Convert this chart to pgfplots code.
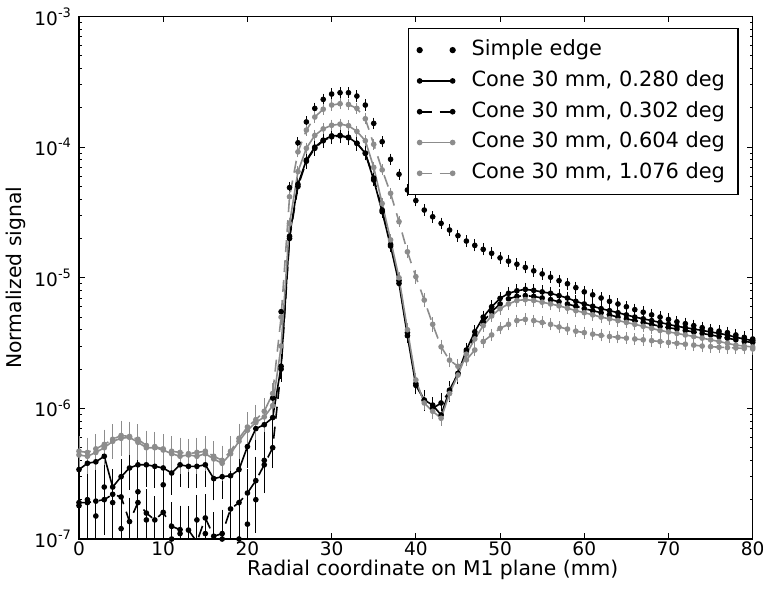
\documentclass[border=0pt]{standalone}
\usepackage{fontspec}
\setmainfont{DejaVu Sans}
\usepackage{pgfplots}
\pgfplotsset{compat=1.18}
\usepackage{pgfplotstable}
\definecolor{mgrey}{gray}{0.55}

% r = relative error of the cones, rs = relative error of the simple edge
% se = simple edge; c1..c4 = cone 0.280, 0.302, 0.604, 1.076 deg
\pgfplotstableread{
x  r     rs    se       c1       c2       c3       c4
0  0.30  0.45  1.8e-7   3.4e-7   1.9e-7   4.4e-7   4.7e-7
1  0.30  0.45  2.0e-7   3.8e-7   1.9e-7   4.3e-7   4.6e-7
2  0.30  0.45  1.5e-7   3.9e-7   1.95e-7  4.6e-7   4.9e-7
3  0.30  0.45  2.5e-7   4.3e-7   2.0e-7   5.0e-7   5.3e-7
4  0.30  0.45  1.9e-7   2.5e-7   2.2e-7   5.6e-7   5.8e-7
5  0.30  0.45  1.2e-7   3.0e-7   2.1e-7   5.9e-7   6.2e-7
6  0.30  0.45  0.9e-7   3.5e-7   1.36e-7  6.0e-7   6.1e-7
7  0.30  0.45  2.3e-7   3.7e-7   1.9e-7   5.5e-7   5.8e-7
8  0.30  0.45  1.4e-7   3.7e-7   1.58e-7  5.0e-7   5.2e-7
9  0.30  0.45  0.8e-7   3.6e-7   1.4e-7   5.0e-7   5.1e-7
10 0.30  0.45  2.6e-7   3.5e-7   1.6e-7   4.8e-7   4.9e-7
11 0.30  0.45  1.0e-7   3.2e-7   1.25e-7  4.5e-7   4.7e-7
12 0.30  0.45  1.1e-7   3.7e-7   1.18e-7  4.3e-7   4.6e-7
13 0.30  0.45  0.7e-7   3.6e-7   1.17e-7  4.4e-7   4.5e-7
14 0.30  0.45  1.4e-7   3.6e-7   0.95e-7  4.3e-7   4.6e-7
15 0.30  0.45  1.1e-7   3.7e-7   1.45e-7  4.5e-7   4.7e-7
16 0.30  0.45  0.6e-7   2.9e-7   1.05e-7  4.1e-7   4.3e-7
17 0.30  0.45  1.0e-7   3.0e-7   1.1e-7   3.8e-7   4.0e-7
18 0.30  0.45  0.9e-7   3.05e-7  1.7e-7   4.5e-7   4.7e-7
19 0.30  0.45  1.0e-7   3.4e-7   1.9e-7   5.6e-7   5.9e-7
20 0.30  0.45  1.3e-7   5.1e-7   2.25e-7  6.8e-7   7.2e-7
21 0.30  0.40  2.0e-7   7.0e-7   2.8e-7   7.8e-7   8.2e-7
22 0.25  0.30  4.0e-7   7.5e-7   3.7e-7   8.6e-7   9.5e-7
23 0.18  0.15  1.2e-6   8.5e-7   5.0e-7   1.05e-6  1.3e-6
24 0.10  0.06  5.5e-6   2.1e-6   2.0e-6   3.0e-6   5.0e-6
25 0.05  0.03  4.9e-5   2.08e-5  2.0e-5   2.6e-5   4.17e-5
26 0.04  0.03  1.08e-4  5.2e-5   5.0e-5   6.5e-5   9.2e-5
27 0.04  0.03  1.56e-4  7.96e-5  7.8e-5   9.8e-5   1.35e-4
28 0.04  0.03  1.98e-4  1.0e-4   9.8e-5   1.23e-4  1.7e-4
29 0.04  0.03  2.32e-4  1.13e-4  1.12e-4  1.38e-4  1.95e-4
30 0.04  0.03  2.55e-4  1.22e-4  1.2e-4   1.47e-4  2.1e-4
31 0.04  0.03  2.61e-4  1.23e-4  1.22e-4  1.5e-4   2.15e-4
32 0.04  0.03  2.61e-4  1.19e-4  1.18e-4  1.46e-4  2.12e-4
33 0.04  0.03  2.46e-4  1.07e-4  1.07e-4  1.32e-4  1.98e-4
34 0.04  0.03  2.10e-4  8.96e-5  9.0e-5   1.12e-4  1.65e-4
35 0.04  0.03  1.52e-4  5.6e-5   5.8e-5   7.0e-5   1.05e-4
36 0.04  0.03  1.10e-4  3.2e-5   3.3e-5   3.7e-5   6.7e-5
37 0.04  0.03  8.07e-5  1.75e-5  1.8e-5   1.95e-5  4.43e-5
38 0.04  0.03  6.2e-5   9.06e-6  9.5e-6   1.0e-5   2.69e-5
39 0.06  0.03  4.7e-5   3.6e-6   3.8e-6   4.0e-6   1.58e-5
40 0.08  0.03  3.9e-5   1.5e-6   1.55e-6  1.65e-6  1.02e-5
41 0.08  0.03  3.3e-5   1.16e-6  1.15e-6  1.1e-6   6.75e-6
42 0.08  0.03  2.93e-5  1.06e-6  1.0e-6   9.5e-7   4.4e-6
43 0.08  0.03  2.61e-5  8.9e-7   1.1e-6   8.4e-7   2.96e-6
44 0.08  0.03  2.32e-5  1.38e-6  1.35e-6  1.3e-6   2.34e-6
45 0.08  0.035 2.10e-5  1.85e-6  1.85e-6  1.8e-6   2.1e-6
46 0.06  0.035 1.91e-5  2.8e-6   2.7e-6   2.6e-6   2.35e-6
47 0.05  0.035 1.77e-5  3.86e-6  3.6e-6   3.4e-6   2.8e-6
48 0.05  0.035 1.65e-5  5.0e-6   4.6e-6   4.3e-6   3.25e-6
49 0.05  0.035 1.54e-5  6.0e-6   5.5e-6   5.1e-6   3.65e-6
50 0.05  0.035 1.42e-5  6.95e-6  6.3e-6   5.8e-6   4.1e-6
51 0.05  0.035 1.34e-5  7.6e-6   6.9e-6   6.3e-6   4.4e-6
52 0.05  0.035 1.27e-5  7.95e-6  7.2e-6   6.7e-6   4.7e-6
53 0.05  0.035 1.20e-5  8.15e-6  7.3e-6   6.8e-6   4.8e-6
54 0.05  0.035 1.13e-5  8.0e-6   7.2e-6   6.7e-6   4.7e-6
55 0.05  0.035 1.07e-5  7.8e-6   7.0e-6   6.5e-6   4.55e-6
56 0.05  0.035 1.01e-5  7.6e-6   6.8e-6   6.3e-6   4.4e-6
57 0.05  0.035 9.5e-6   7.3e-6   6.55e-6  6.1e-6   4.2e-6
58 0.05  0.035 9.0e-6   7.0e-6   6.3e-6   5.85e-6  4.05e-6
59 0.05  0.035 8.4e-6   6.6e-6   6.05e-6  5.6e-6   3.9e-6
60 0.05  0.035 7.8e-6   6.3e-6   5.8e-6   5.4e-6   3.8e-6
61 0.05  0.035 7.4e-6   6.05e-6  5.6e-6   5.2e-6   3.7e-6
62 0.05  0.035 7.0e-6   5.8e-6   5.4e-6   5.0e-6   3.62e-6
63 0.05  0.035 6.6e-6   5.6e-6   5.2e-6   4.85e-6  3.55e-6
64 0.05  0.035 6.3e-6   5.4e-6   5.0e-6   4.7e-6   3.5e-6
65 0.05  0.035 6.0e-6   5.2e-6   4.85e-6  4.55e-6  3.45e-6
66 0.05  0.035 5.7e-6   5.0e-6   4.7e-6   4.4e-6   3.4e-6
67 0.05  0.035 5.45e-6  4.85e-6  4.55e-6  4.25e-6  3.35e-6
68 0.05  0.035 5.2e-6   4.7e-6   4.4e-6   4.1e-6   3.3e-6
69 0.05  0.035 5.0e-6   4.55e-6  4.25e-6  3.95e-6  3.25e-6
70 0.05  0.035 4.8e-6   4.4e-6   4.15e-6  3.85e-6  3.2e-6
71 0.05  0.035 4.6e-6   4.25e-6  4.05e-6  3.75e-6  3.15e-6
72 0.05  0.035 4.45e-6  4.15e-6  3.95e-6  3.65e-6  3.1e-6
73 0.05  0.035 4.3e-6   4.05e-6  3.85e-6  3.55e-6  3.05e-6
74 0.05  0.035 4.15e-6  3.95e-6  3.75e-6  3.45e-6  3.0e-6
75 0.05  0.035 4.0e-6   3.85e-6  3.65e-6  3.35e-6  2.97e-6
76 0.05  0.035 3.9e-6   3.75e-6  3.55e-6  3.25e-6  2.94e-6
77 0.05  0.035 3.8e-6   3.65e-6  3.45e-6  3.15e-6  2.92e-6
78 0.05  0.035 3.65e-6  3.5e-6   3.35e-6  3.05e-6  2.9e-6
79 0.05  0.035 3.5e-6   3.4e-6   3.25e-6  3.0e-6   2.88e-6
80 0.05  0.035 3.4e-6   3.3e-6   3.2e-6   2.95e-6  2.85e-6
}\profiles

\pgfplotsset{
  legline/.style={legend image code/.code={%
    \draw[##1] plot coordinates {(0bp,0bp) (16.5bp,0bp)};}},
  ebars/.style={error bars/.cd, y dir=both, y explicit,
    error bar style={solid, line width=0.5bp},
    error mark options={solid, mark size=2bp, line width=0.5bp}},
}

\begin{document}
\begin{tikzpicture}
\begin{axis}[
  at={(0,0)}, anchor=south west,
  scale only axis, width=336.85bp, height=261.25bp,
  xmin=0, xmax=80, ymin=1e-7, ymax=1e-3,
  ymode=log, log basis y=10,
  xtick={0,10,...,80},
  ytick={1e-7,1e-6,1e-5,1e-4,1e-3},
  yticklabels={10\textsuperscript{-7},10\textsuperscript{-6},10\textsuperscript{-5},10\textsuperscript{-4},10\textsuperscript{-3}},
  minor ytick={2e-7,3e-7,4e-7,5e-7,6e-7,7e-7,8e-7,9e-7,
    2e-6,3e-6,4e-6,5e-6,6e-6,7e-6,8e-6,9e-6,
    2e-5,3e-5,4e-5,5e-5,6e-5,7e-5,8e-5,9e-5,
    2e-4,3e-4,4e-4,5e-4,6e-4,7e-4,8e-4,9e-4},
  tick align=inside,
  major tick length=3bp, minor tick length=1.6bp,
  axis line style={line width=0.7bp},
  every tick/.style={black, line width=0.5bp},
  /pgf/number format/assume math mode=true,
  tick label style={font=\fontsize{9.3}{11}\selectfont},
  x tick label style={inner ysep=0.3bp, yshift=-1bp},
  label style={font=\fontsize{10.2}{12}\selectfont},
  xlabel={Radial coordinate on M1 plane (mm)},
  ylabel={Normalized signal},
  xlabel style={at={(axis description cs:0.525,-0.0700)}, anchor=base, inner sep=0pt},
  ylabel style={at={(axis description cs:-0.0943,0.5)}, anchor=center, inner sep=0pt},
  legend style={at={(0.979,0.978)}, anchor=north east, draw=black,
    line width=0.7bp, font=\fontsize{10.5}{12}\selectfont,
    inner xsep=4bp, inner ysep=3bp, column sep=5.5bp,
    nodes={inner sep=2.4bp, text height=8bp, text depth=2.6bp}},
  legend cell align=left,
]
\addplot[only marks, black, mark=*, mark size=1.2bp,
  legend image code/.code={\fill (0bp,0bp) circle (1.2bp); \fill (16.5bp,0bp) circle (1.2bp);},
  ebars] table[x=x, y=se, y error expr=\thisrow{rs}*\thisrow{se}] {\profiles};
\addlegendentry{Simple edge}
\addplot[black, line width=0.8bp, mark=*, mark size=1bp, legline, ebars]
  table[x=x, y=c1, y error expr=0.9*\thisrow{r}*\thisrow{c1}] {\profiles};
\addlegendentry{Cone 30 mm, 0.280 deg}
\addplot[black, line width=0.8bp, dash pattern=on 6bp off 4bp, mark=*, mark size=1bp,
  mark options={solid}, legline, ebars]
  table[x=x, y=c2, y error expr=1.4*\thisrow{r}*\thisrow{c2}] {\profiles};
\addlegendentry{Cone 30 mm, 0.302 deg}
\addplot[mgrey, line width=0.8bp, mark=*, mark size=1bp, legline, ebars]
  table[x=x, y=c3, y error expr=0.7*\thisrow{r}*\thisrow{c3}] {\profiles};
\addlegendentry{Cone 30 mm, 0.604 deg}
\addplot[mgrey, line width=0.8bp, dash pattern=on 6bp off 4bp, mark=*, mark size=1bp,
  mark options={solid}, legline, ebars]
  table[x=x, y=c4, y error expr=0.7*\thisrow{r}*\thisrow{c4}] {\profiles};
\addlegendentry{Cone 30 mm, 1.076 deg}
\end{axis}
\pgfresetboundingbox
\useasboundingbox (-39.5bp,-28.5bp) rectangle (342bp,269.5bp);
\end{tikzpicture}
\end{document}
